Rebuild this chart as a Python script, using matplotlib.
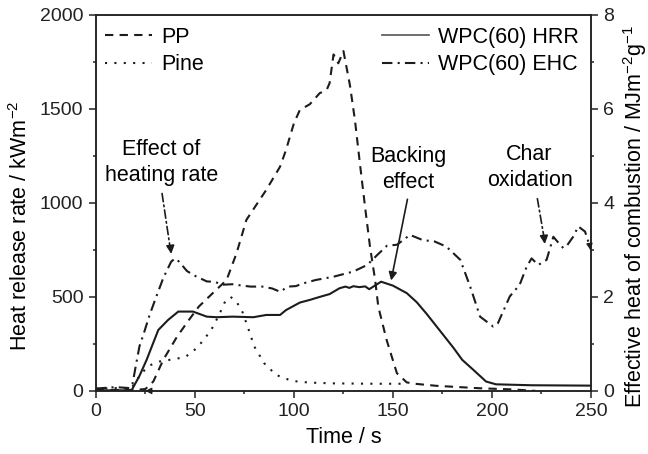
import numpy as np
import matplotlib
matplotlib.use("Agg")
import matplotlib.pyplot as plt
from matplotlib.ticker import MultipleLocator
from matplotlib.lines import Line2D

plt.rcParams['font.family'] = ['Liberation Sans', 'DejaVu Sans']
plt.rcParams['mathtext.fontset'] = 'custom'
plt.rcParams['mathtext.rm'] = 'Liberation Sans'

# PP heat release rate (kW/m2)
time_pp = [0, 10, 20, 25, 29, 34, 41, 47, 52, 59, 66, 71, 76, 86, 93, 96, 100, 103, 108, 113,
           116.5, 118, 120, 122.4, 125, 128.3, 130.8, 133.3, 135.9, 138.4, 141, 142.6, 146.8,
           152, 157, 162, 172, 177, 194, 210, 222]
hrr_pp = [5, 5, 5, 10, 50, 165, 289, 378, 449, 520, 590, 732, 910, 1069, 1193, 1282, 1424, 1495,
          1525, 1584, 1601, 1637, 1790, 1743, 1808, 1625, 1441, 1211, 980, 768, 590, 448, 271,
          94, 45, 37, 27, 24, 14, 8, 0]

# pine heat release rate (kW/m2)
time_pine = [0, 10, 18, 23, 27, 32, 40, 45, 49, 53, 58, 62, 65, 68, 71, 74, 77, 80, 85, 91,
             99, 108, 120, 140, 155]
hrr_pine = [12, 15, 15, 94, 135, 156, 170, 180, 209, 254, 320, 400, 470, 500, 475, 420, 330,
            236, 147, 85, 53, 44, 40, 38, 38]

# WPC(60) heat release rate (kW/m2)
time_wpc = [0, 10, 18, 22, 25.6, 31.5, 36.5, 41.6, 49, 56, 61, 69, 79.5, 86, 93, 96, 103, 108,
            113, 118, 123, 126, 128, 130, 133, 136, 138, 144, 150, 157, 162, 167, 173, 180.5,
            185, 190.6, 197, 202, 220, 250]
hrr_wpc = [3, 3, 3, 80, 165, 324, 378, 422, 422, 395, 392, 395, 392, 404, 404, 430, 470, 484,
           500, 515, 546, 555, 548, 557, 552, 556, 541, 581, 560, 520, 472, 410, 330, 230,
           165, 112, 50, 35, 30, 28]

# WPC(60) effective heat of combustion (right axis)
time_ehc = [0, 10, 17, 18.5, 20, 22, 24, 27, 30, 34, 38, 40, 42, 46, 50, 56, 60, 64, 69, 74,
            78, 84, 89, 93, 97, 101, 104, 111, 120, 130, 137, 142, 147, 152, 158.6, 165, 171,
            177, 184, 189, 194, 200.6, 203, 209, 214, 217.5, 220, 223.4, 227.6, 231, 233, 236,
            238, 241, 243.6, 247, 249.5]
ehc_wpc = [0.05, 0.08, 0.06, 0.15, 0.5, 0.95, 1.2, 1.6, 1.95, 2.4, 2.75, 2.82, 2.75, 2.55, 2.45,
           2.33, 2.32, 2.26, 2.27, 2.24, 2.22, 2.22, 2.18, 2.11, 2.22, 2.23, 2.28, 2.36, 2.43,
           2.54, 2.68, 2.89, 3.09, 3.11, 3.32, 3.21, 3.18, 3.07, 2.79, 2.22, 1.58, 1.37, 1.44,
           2.01, 2.26, 2.64, 2.82, 2.68, 2.79, 3.28, 3.18, 3.04, 3.1, 3.28, 3.5, 3.39, 3.07]

INK = '#1c1c1c'
LW = 1.5
DASHED = (0, (4, 3))
DOTTED = (0, (1, 3.5))
DASHDOT = (0, (5, 2.5, 1, 2.5))
FS = 15.5


def setup_axis(ax):
    for s in ax.spines.values():
        s.set_linewidth(1.1)
        s.set_color('#222222')
    ax.tick_params(which='major', direction='out', length=5, width=1.1, labelsize=14, pad=4,
                   colors='#222222')
    ax.tick_params(which='minor', direction='out', length=2.5, width=1.1, colors='#222222')


def main():
    fig = plt.figure(figsize=(6.48, 4.54), dpi=100)
    ax = fig.add_axes([0.148, 0.139, 0.764, 0.828])
    ax2 = ax.twinx()

    ax.plot(time_pp, hrr_pp, color=INK, lw=LW, linestyle=DASHED)
    ax.plot(time_pine, hrr_pine, color=INK, lw=LW, linestyle=DOTTED)
    ax.plot(time_wpc, hrr_wpc, color=INK, lw=LW, linestyle='-')
    ax2.plot(time_ehc, ehc_wpc, color=INK, lw=LW, linestyle=DASHDOT)

    ax.set_xlim(0, 250)
    ax.set_ylim(0, 2000)
    ax2.set_ylim(0, 8)
    ax.xaxis.set_major_locator(MultipleLocator(50))
    ax.xaxis.set_minor_locator(MultipleLocator(25))
    ax.yaxis.set_major_locator(MultipleLocator(500))
    ax.yaxis.set_minor_locator(MultipleLocator(250))
    ax2.yaxis.set_major_locator(MultipleLocator(2))
    ax2.yaxis.set_minor_locator(MultipleLocator(1))
    setup_axis(ax)
    setup_axis(ax2)

    ax.set_xlabel('Time / s', fontsize=FS, labelpad=5)
    ax.set_ylabel(r'Heat release rate / kWm$^{-2}$', fontsize=FS)
    ax.yaxis.set_label_coords(-0.13, 0.44)
    ax2.set_ylabel(r'Effective heat of combustion / MJm$^{-2}$g$^{-1}$', fontsize=FS)
    ax2.yaxis.set_label_coords(1.06, 0.463)

    # legends
    h_pp = Line2D([], [], color=INK, lw=LW, linestyle=DASHED)
    h_pine = Line2D([], [], color=INK, lw=LW, linestyle=DOTTED)
    h_hrr = Line2D([], [], color='#555555', lw=1.2, linestyle='-')
    h_ehc = Line2D([], [], color=INK, lw=LW, linestyle=DASHDOT)
    kw = dict(frameon=False, fontsize=FS, handlelength=2.2, handletextpad=0.4,
              labelspacing=0.3, borderpad=0, borderaxespad=0, loc='upper left')
    leg1 = ax2.legend([h_pp, h_pine], ['PP', 'Pine'], bbox_to_anchor=(0.018, 0.968), **kw)
    ax2.add_artist(leg1)
    ax2.legend([h_hrr, h_ehc], ['WPC(60) HRR', 'WPC(60) EHC'],
               bbox_to_anchor=(0.578, 0.968), **kw)

    # annotations
    ax.text(33, 1215, 'Effect of\nheating rate', fontsize=FS, ha='center', va='center',
            linespacing=1.3)
    ax.annotate('', xy=(37.5, 760), xytext=(33.2, 1065),
                arrowprops=dict(arrowstyle='-', color=INK, lw=1.2, linestyle=(0, (5, 2, 1, 2))))
    ax.annotate('', xy=(38.2, 714), xytext=(37.6, 770),
                arrowprops=dict(arrowstyle='-|>', color=INK, lw=1.2, mutation_scale=12))

    ax.text(157.6, 1180, 'Backing\neffect', fontsize=FS, ha='center', va='center',
            linespacing=1.3)
    ax.annotate('', xy=(148.8, 573), xytext=(157.6, 1034),
                arrowprops=dict(arrowstyle='-|>', color=INK, lw=1.2, mutation_scale=12))

    ax.text(219, 1190, 'Char\noxidation', fontsize=FS, ha='center', va='center',
            linespacing=1.3)
    ax.annotate('', xy=(226.4, 810), xytext=(222.7, 1037),
                arrowprops=dict(arrowstyle='-', color=INK, lw=1.2, linestyle=(0, (5, 2, 1, 2))))
    ax.annotate('', xy=(226.8, 767), xytext=(226.3, 820),
                arrowprops=dict(arrowstyle='-|>', color=INK, lw=1.2, mutation_scale=12))

    # axis markers: HRR to the left axis, EHC to the right axis
    ax.annotate('', xy=(23.5, 0), xytext=(27, 0),
                arrowprops=dict(arrowstyle='-|>', color=INK, lw=1.0, mutation_scale=9))
    ax2.annotate('', xy=(250, 2.94), xytext=(249.5, 3.07),
                 arrowprops=dict(arrowstyle='-|>', color=INK, lw=1.0, mutation_scale=9))

    fig.savefig('out.png', dpi=100)


if __name__ == '__main__':
    main()
